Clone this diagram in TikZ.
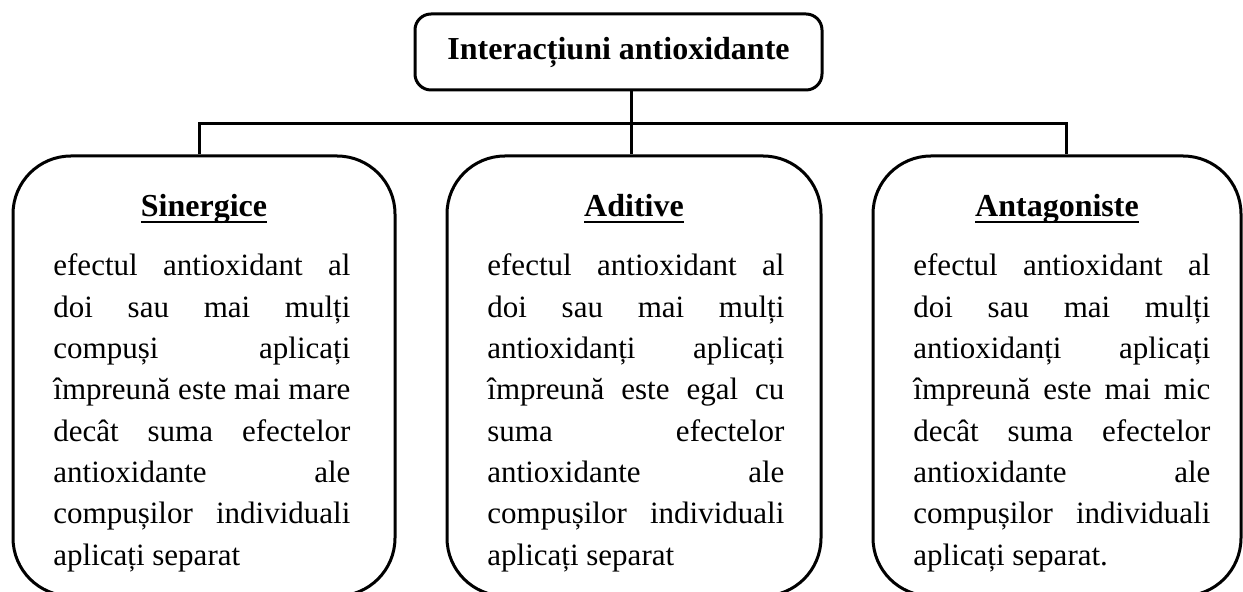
\documentclass[tikz,border=0pt]{standalone}
\usepackage{fontspec}
\setmainfont{Liberation Serif}
\usetikzlibrary{positioning}
\tikzset{
    group/.style={draw, line width=1.5pt, rounded corners=29pt, minimum height=220pt, inner sep=0pt},
    rootbox/.style={draw, line width=1.5pt, rounded corners=8pt, minimum width=203.5pt, minimum height=38pt, font=\bfseries\fontsize{16}{19}\selectfont},
    heading/.style={anchor=base, inner sep=0pt, font=\bfseries\fontsize{16}{19}\selectfont},
    body/.style={anchor=base west, inner sep=0pt, font=\fontsize{15.5}{20.65}\selectfont},
    link/.style={line width=1.5pt}
}
\newlength{\bodywd}
\setlength{\bodywd}{148.5pt}
\newcommand{\jrow}[1]{\hbox to\bodywd{\spaceskip=0.2em plus 1fill\relax #1}}
\newcommand{\lastrow}[1]{\hbox{#1}}
\newcommand{\ulined}[1]{\setbox0\hbox{#1}\rlap{\vrule width\wd0 height -2pt depth 3pt}\box0}
\newcommand{\bodytext}[1]{\vtop{\baselineskip=20.65pt #1}}

\begin{document}
\begin{tikzpicture}[x=0.5pt, y=-0.5pt]
    \useasboundingbox (0,0) rectangle (1243,592);

    \node[rootbox] (root) at (618.5,52) {Interacțiuni antioxidante};

    \node[group, minimum width=191pt] (sin) at (204,376) {};
    \node[group, minimum width=187pt] (adi) at (634,376) {};
    \node[group, minimum width=184pt] (ant) at (1057,376) {};

    \node[heading] (sinh) at (204,217) {\ulined{Sinergice}};
    \node[heading] (adih) at (634,217) {\ulined{Aditive}};
    \node[heading] (anth) at (1057,217) {\ulined{Antagoniste}};

    \node[body] (sinb) at (53,276) {\bodytext{
        \jrow{efectul antioxidant al}
        \jrow{doi sau mai mulți}
        \jrow{compuși aplicați}
        \jrow{împreună este mai mare}
        \jrow{decât suma efectelor}
        \jrow{antioxidante ale}
        \jrow{compușilor individuali}
        \lastrow{aplicați separat}}};
    \node[body] (adib) at (487,276) {\bodytext{
        \jrow{efectul antioxidant al}
        \jrow{doi sau mai mulți}
        \jrow{antioxidanți aplicați}
        \jrow{împreună este egal cu}
        \jrow{suma efectelor}
        \jrow{antioxidante ale}
        \jrow{compușilor individuali}
        \lastrow{aplicați separat}}};
    \node[body] (antb) at (913,276) {\bodytext{
        \jrow{efectul antioxidant al}
        \jrow{doi sau mai mulți}
        \jrow{antioxidanți aplicați}
        \jrow{împreună este mai mic}
        \jrow{decât suma efectelor}
        \jrow{antioxidante ale}
        \jrow{compușilor individuali}
        \lastrow{aplicați separat.}}};

    \coordinate (hub) at (631,123.5);
    \coordinate (jl) at (199,123.5);
    \coordinate (jr) at (1066,123.5);

    \draw[link] (root.south -| hub) -- (adi.north -| hub);
    \draw[link] (sin.north -| jl) -- (jl) -- (jr) -- (ant.north -| jr);
\end{tikzpicture}
\end{document}
